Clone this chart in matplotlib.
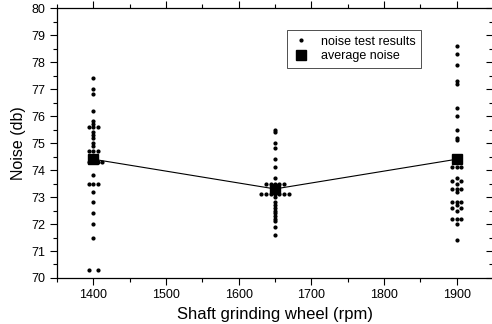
import matplotlib
matplotlib.use("Agg")
import matplotlib.pyplot as plt
from matplotlib.ticker import MultipleLocator

plt.rcParams['font.family'] = ['Liberation Sans', 'DejaVu Sans']

# average noise per speed
speeds = [1400, 1650, 1900]
avg_noise = [74.4, 73.3, 74.4]

# individual test results (x with small horizontal offsets for coincident points)
x_1400 = [1400]*21 + [1394, 1406, 1394, 1406, 1394, 1406, 1412, 1394, 1406, 1394, 1406]
y_1400 = [77.4, 77.0, 76.8, 76.2, 75.8, 75.7, 75.6, 75.4, 75.3, 75.2, 75.0, 74.9,
          74.7, 74.3, 73.8, 73.5, 73.2, 72.8, 72.4, 72.0, 71.5,
          75.6, 75.6, 74.7, 74.7, 74.3, 74.3, 74.3, 73.5, 73.5, 70.3, 70.3]
x_1650 = [1650]*21 + [1644, 1656, 1638, 1662, 1644, 1656, 1638, 1662, 1631, 1669]
y_1650 = [75.5, 75.4, 75.0, 74.8, 74.4, 74.1, 73.7, 73.5, 73.3, 73.1, 73.0, 72.8,
          72.7, 72.6, 72.5, 72.4, 72.3, 72.2, 72.1, 71.9, 71.6,
          73.5, 73.5, 73.5, 73.5, 73.1, 73.1, 73.1, 73.1, 73.1, 73.1]
x_1900 = [1900]*21 + [1894, 1906, 1894, 1906, 1894, 1906, 1894, 1906, 1894, 1906, 1894, 1906]
y_1900 = [78.6, 78.3, 77.9, 77.3, 77.2, 76.3, 76.0, 75.5, 75.2, 75.1, 74.1, 73.7,
          73.5, 73.3, 73.2, 72.8, 72.7, 72.5, 72.2, 72.0, 71.4,
          74.1, 74.1, 73.6, 73.6, 73.3, 73.3, 72.8, 72.8, 72.6, 72.6, 72.2, 72.2]

fig = plt.figure(figsize=(4.92, 3.24), dpi=100)
ax = fig.add_axes([0.1159, 0.142, 0.886, 0.833])

xs = x_1400 + x_1650 + x_1900
ys = y_1400 + y_1650 + y_1900
ax.plot(xs, ys, linestyle='none', marker='o', color='black', markersize=2.0,
        label='noise test results')
ax.plot(speeds, avg_noise, color='black', linewidth=0.8, marker='s',
        markersize=7, label='_nolegend_')
ax.plot([], [], linestyle='none', marker='s', color='black', markersize=7,
        label='average noise')

ax.set_xlim(1350, 1950)
ax.set_ylim(70, 80)
ax.xaxis.set_major_locator(MultipleLocator(100))
ax.xaxis.set_minor_locator(MultipleLocator(50))
ax.yaxis.set_major_locator(MultipleLocator(1))
ax.yaxis.set_minor_locator(MultipleLocator(0.5))
ax.tick_params(which='both', direction='out', top=True, right=True,
               labelsize=9, width=0.8)
ax.tick_params(which='major', length=5)
ax.tick_params(which='minor', length=3)
# inward ticks on top/right
for t in ax.xaxis.get_major_ticks() + ax.xaxis.get_minor_ticks():
    t.tick2line.set_marker(3)
for t in ax.yaxis.get_major_ticks() + ax.yaxis.get_minor_ticks():
    t.tick2line.set_marker(0)
ax.tick_params(axis='x', which='both', pad=3)

for s in ax.spines.values():
    s.set_linewidth(0.9)

ax.set_xlabel('Shaft grinding wheel (rpm)', fontsize=12, labelpad=4)
ax.set_ylabel('Noise (db)', fontsize=11.5, labelpad=4)

leg = ax.legend(loc='upper left', bbox_to_anchor=(0.527, 0.918), fontsize=9,
                frameon=True, fancybox=False, edgecolor='black',
                handlelength=1.4, handletextpad=0.9, borderpad=0.45,
                borderaxespad=0, labelspacing=0.2, markerscale=1.0)
leg.get_frame().set_linewidth(0.6)

fig.savefig('out.png', dpi=100)
